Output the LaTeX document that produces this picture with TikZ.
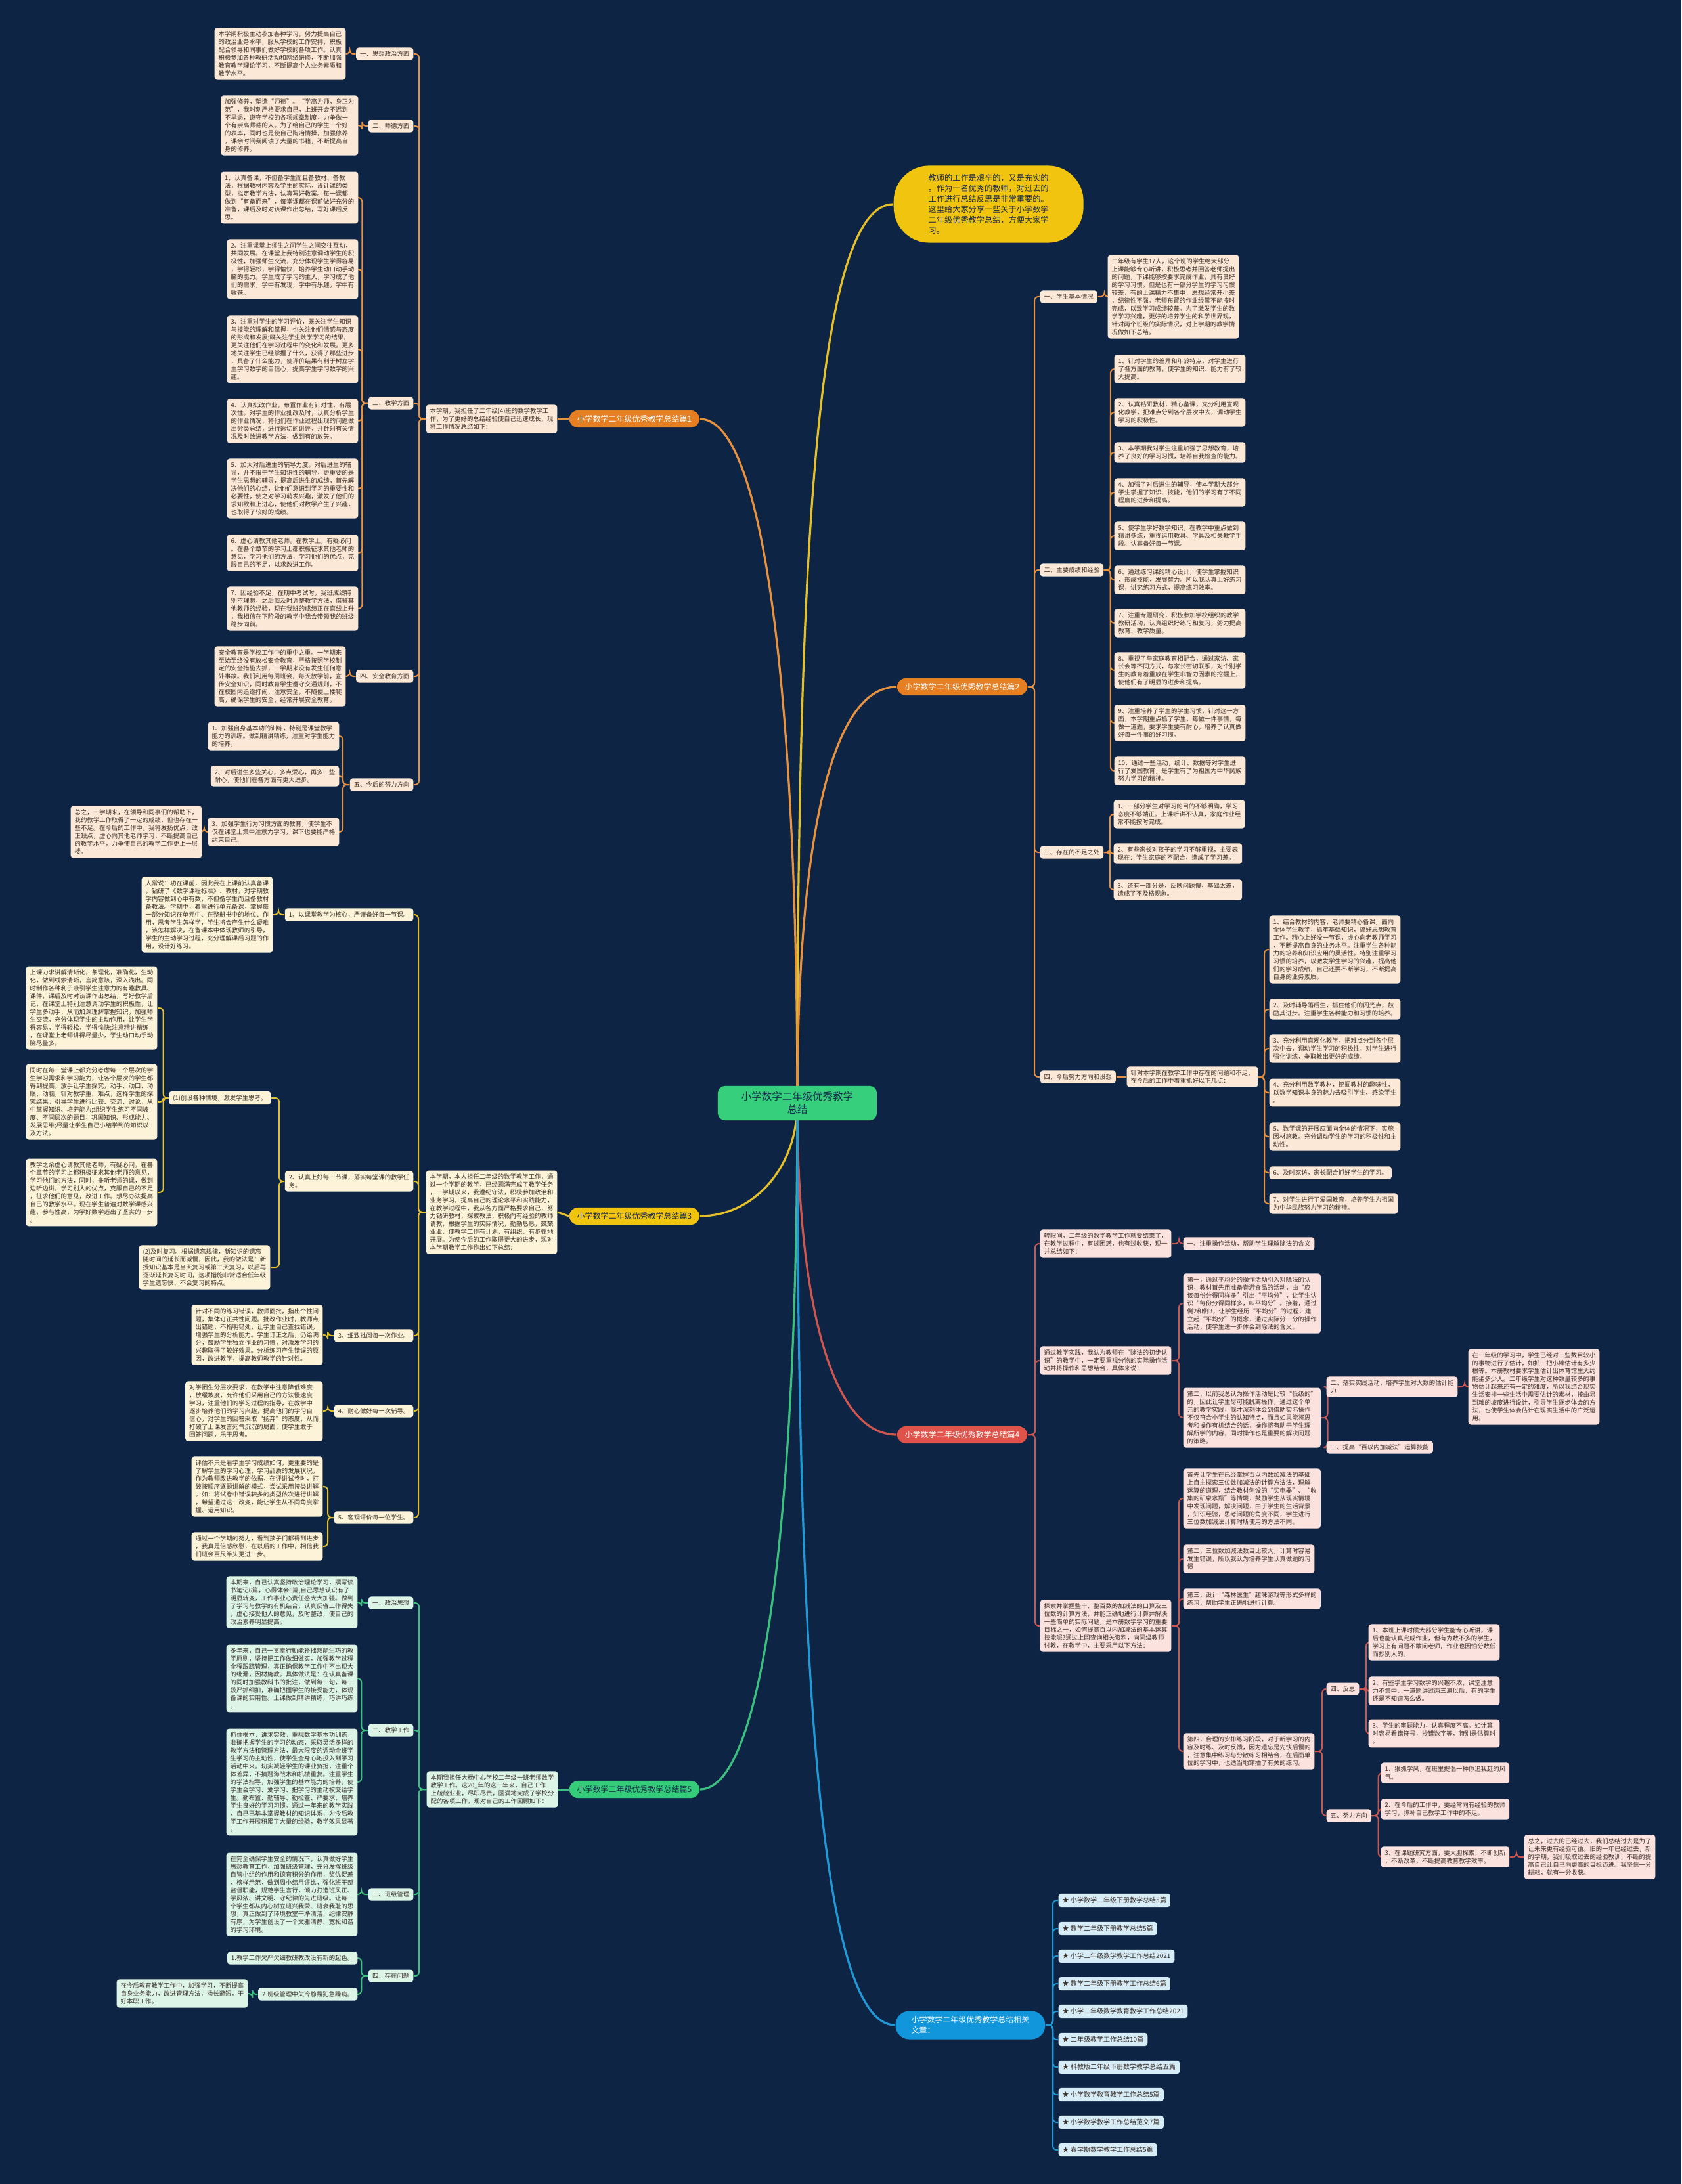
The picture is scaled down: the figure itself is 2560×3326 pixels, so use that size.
\documentclass[tikz,border=0pt]{standalone}
\usepackage{fontspec}
\setmainfont{Noto Sans CJK SC}

\definecolor{bgnavy}{HTML}{0E2444}
\definecolor{inktext}{HTML}{3A2E28}
\definecolor{navytext}{HTML}{14284A}
\definecolor{rootgreen}{HTML}{36D07C}
\definecolor{orangeline}{HTML}{E8913F}
\definecolor{orangefill}{HTML}{E67E22}
\definecolor{peachfill}{HTML}{FBE8D6}
\definecolor{yellowline}{HTML}{E4C12A}
\definecolor{yellowfill}{HTML}{F1C40F}
\definecolor{creamfill}{HTML}{FCF3D8}
\definecolor{greenline}{HTML}{3CC07F}
\definecolor{greenfill}{HTML}{34CC78}
\definecolor{mintfill}{HTML}{DDF5E6}
\definecolor{redline}{HTML}{CE5650}
\definecolor{redfill}{HTML}{E0534A}
\definecolor{pinkfill}{HTML}{FCE2DF}
\definecolor{blueline}{HTML}{2199D6}
\definecolor{bluefill}{HTML}{1296DB}
\definecolor{skyfill}{HTML}{D6ECF7}

\newcommand\notesize{\fontsize{2.67pt}{3.41pt}\selectfont}
\newcommand\branchsize{\fontsize{3.41pt}{4.55pt}\selectfont}
\newcommand\bubblesize{\fontsize{3.47pt}{4.55pt}\selectfont}
\newcommand\rootsize{\fontsize{4.4pt}{5.7pt}\selectfont}
\newcommand\linksize{\fontsize{2.85pt}{3.6pt}\selectfont}

\pgfdeclarelayer{back}
\pgfsetlayers{back,main}

\begin{document}
\begin{tikzpicture}[x=0.1mm, y=-0.1mm,
    box/.style={rounded corners=0.4mm, inner xsep=0.6mm, inner ysep=0.52mm, align=left, font=\notesize, text=inktext},
    onote/.style={box, fill=peachfill},
    ynote/.style={box, fill=creamfill},
    gnote/.style={box, fill=mintfill},
    rnote/.style={box, fill=pinkfill},
    bnote/.style={box, fill=skyfill, font=\linksize, inner ysep=0.55mm},
    branch/.style={rounded corners=1.35mm, inner xsep=1.2mm, inner ysep=0.75mm, font=\branchsize},
    mainline/.style={line width=0.32mm},
    oline/.style={draw=orangeline, line width=0.2mm, rounded corners=0.6mm},
    yline/.style={draw=yellowline, line width=0.2mm, rounded corners=0.6mm},
    gline/.style={draw=greenline, line width=0.2mm, rounded corners=0.6mm},
    rline/.style={draw=redline, line width=0.2mm, rounded corners=0.6mm},
    bline/.style={draw=blueline, line width=0.2mm, rounded corners=0.6mm}
  ]
  \useasboundingbox (0,0) rectangle (2560,3326);
  \begin{pgfonlayer}{back}
    \fill[bgnavy] (0,0) rectangle (2560,3326);
  \end{pgfonlayer}

  % centre
  \node[fill=rootgreen, rounded corners=1.1mm, inner xsep=3.6mm, inner ysep=0.9mm,
        font=\rootsize, text=navytext, align=center] (root) at (1214,1680)
        {小学数学二年级优秀教学\\总结};

  % Branch 1 (left, orange)
  \node[branch, fill=orangefill, text=white, anchor=west] (b1) at (866,638) {小学数学二年级优秀教学总结篇1};
  \node[onote, anchor=west] (intro1) at (648,638) {本学期，我担任了二年级(4)班的数学教学工\\作，为了更好的总结经验使自己迅速成长，现\\将工作情况总结如下：};

  \node[onote, anchor=east] (l1a) at (630,82) {一、思想政治方面};
  \node[onote, anchor=east] (t1a) at (527,82) {本学期积极主动参加各种学习，努力提高自己\\的政治业务水平，服从学校的工作安排，积极\\配合领导和同事们做好学校的各项工作。认真\\积极参加各种教研活动和网络研修，不断加强\\教育教学理论学习，不断提高个人业务素质和\\教学水平。};

  \node[onote, anchor=east] (l1b) at (630,192) {二、师德方面};
  \node[onote, anchor=east] (t1b) at (546,191) {加强修养，塑造“师德”。“学高为师，身正为\\范”，我时刻严格要求自己，上班开会不迟到\\不早退，遵守学校的各项规章制度，力争做一\\个有崇高师德的人。为了给自己的学生一个好\\的表率，同时也是使自己陶冶情操，加强修养\\，课余时间我阅读了大量的书籍，不断提高自\\身的修养。};

  \node[onote, anchor=east] (l1c) at (630,614) {三、教学方面};
  \node[onote, anchor=east] (c1) at (546,301) {1、认真备课，不但备学生而且备教材、备教\\法，根据教材内容及学生的实际，设计课的类\\型，拟定教学方法，认真写好教案。每一课都\\做到“有备而来”，每堂课都在课前做好充分的\\准备，课后及时对该课作出总结，写好课后反\\思。};
  \node[onote, anchor=east] (c2) at (546,410) {2、注重课堂上师生之间学生之间交往互动，\\共同发展。在课堂上我特别注意调动学生的积\\极性，加强师生交流，充分体现学生学得容易\\，学得轻松，学得愉快，培养学生动口动手动\\脑的能力。学生成了学习的主人，学习成了他\\们的需求，学中有发现，学中有乐趣，学中有\\收获。};
  \node[onote, anchor=east] (c3) at (546,532) {3、注重对学生的学习评价，既关注学生知识\\与技能的理解和掌握，也关注他们情感与态度\\的形成和发展;既关注学生数学学习的结果，\\更关注他们在学习过程中的变化和发展。更多\\地关注学生已经掌握了什么，获得了那些进步\\，具备了什么能力，使评价结果有利于树立学\\生学习数学的自信心，提高学生学习数学的兴\\趣。};
  \node[onote, anchor=east] (c4) at (546,641) {4、认真批改作业，布置作业有针对性，有层\\次性。对学生的作业批改及时，认真分析学生\\的作业情况，将他们在作业过程出现的问题做\\出分类总结，进行透切的讲评，并针对有关情\\况及时改进教学方法，做到有的放矢。};
  \node[onote, anchor=east] (c5) at (546,744) {5、加大对后进生的辅导力度。对后进生的辅\\导，并不限于学生知识性的辅导，更重要的是\\学生思想的辅导，提高后进生的成绩，首先解\\决他们的心结，让他们意识到学习的重要性和\\必要性，使之对学习萌发兴趣，激发了他们的\\求知欲和上进心，使他们对数学产生了兴趣，\\也取得了较好的成绩。};
  \node[onote, anchor=east] (c6) at (546,842) {6、虚心请教其他老师。在教学上，有疑必问\\。在各个章节的学习上都积极征求其他老师的\\意见，学习他们的方法，学习他们的优点，克\\服自己的不足，以求改进工作。};
  \node[onote, anchor=east] (c7) at (546,927) {7、因经验不足，在期中考试时，我班成绩特\\别不理想，之后我及时调整教学方法，借鉴其\\他教师的经验，现在我班的成绩正在直线上升\\，我相信在下阶段的教学中我会带领我的班级\\稳步向前。};

  \node[onote, anchor=east] (l1d) at (630,1030) {四、安全教育方面};
  \node[onote, anchor=east] (t1d) at (527,1030) {安全教育是学校工作中的重中之重。一学期来\\至始至终没有放松安全教育，严格按照学校制\\定的安全措施去抓，一学期来没有发生任何意\\外事故。我们利用每周班会，每天放学前，宣\\传安全知识，同时教育学生遵守交通规则，不\\在校园内追逐打闹，注意安全，不随便上楼爬\\高，确保学生的安全，经常开展安全教育。};

  \node[onote, anchor=east] (l1e) at (630,1195) {五、今后的努力方向};
  \node[onote, anchor=east] (e1) at (517,1121) {1、加强自身基本功的训练，特别是课堂教学\\能力的训练。做到精讲精练，注重对学生能力\\的培养。};
  \node[onote, anchor=east] (e2) at (517,1182) {2、对后进生多些关心，多点爱心，再多一些\\耐心，使他们在各方面有更大进步。};
  \node[onote, anchor=east] (e3) at (517,1267) {3、加强学生行为习惯方面的教育，使学生不\\仅在课堂上集中注意力学习，课下也要能严格\\约束自己。};
  \node[onote, anchor=east] (e4) at (308,1267) {总之，一学期来，在领导和同事们的帮助下，\\我的教学工作取得了一定的成绩，但也存在一\\些不足。在今后的工作中，我将发扬优点，改\\正缺点，虚心向其他老师学习，不断提高自己\\的教学水平，力争使自己的教学工作更上一层\\楼。};

  % Branch 3 (left, yellow)
  \node[branch, fill=yellowfill, text=navytext, anchor=west] (b3) at (866,1852) {小学数学二年级优秀教学总结篇3};
  \node[ynote, anchor=west] (intro3) at (648,1846) {本学期，本人担任二年级的数学教学工作，通\\过一个学期的教学，已经圆满完成了教学任务\\，一学期以来，我遵纪守法，积极参加政治和\\业务学习，提高自己的理论水平和实践能力，\\在教学过程中，我从各方面严格要求自己，努\\力钻研教材，探索教法，积极向有经验的教师\\请教，根据学生的实际情况，勤勤恳恳，兢兢\\业业，使教学工作有计划，有组织，有步骤地\\开展。为使今后的工作取得更大的进步，现对\\本学期教学工作作出如下总结：};

  \node[ynote, anchor=east] (l3a) at (630,1393) {1、以课堂教学为核心，严谨备好每一节课。};
  \node[ynote, anchor=east] (k1) at (416,1393) {人常说：功在课前，因此我在上课前认真备课\\，钻研了《数学课程标准》、教材，对学期教\\学内容做到心中有数，不但备学生而且备教材\\备教法。学期中，着重进行单元备课，掌握每\\一部分知识在单元中、在整册书中的地位、作\\用，思考学生怎样学，学生将会产生什么疑难\\，该怎样解决，在备课本中体现教师的引导，\\学生的主动学习过程，充分理解课后习题的作\\用，设计好练习。};

  \node[ynote, anchor=east] (l3b) at (630,1799) {2、认真上好每一节课，落实每堂课的教学任\\务。};
  \node[ynote, anchor=east] (l3p) at (413,1672) {(1)创设各种情境，激发学生思考。};
  \node[ynote, anchor=east] (ka) at (240,1535) {上课力求讲解清晰化，条理化，准确化，生动\\化，做到线索清晰，言简意赅，深入浅出。同\\时制作各种利于吸引学生注意力的有趣教具、\\课件，课后及时对该课作出总结，写好教学后\\记，在课堂上特别注意调动学生的积极性，让\\学生多动手，从而加深理解掌握知识，加强师\\生交流，充分体现学生的主动作用，让学生学\\得容易，学得轻松，学得愉快;注意精讲精练\\，在课堂上老师讲得尽量少，学生动口动手动\\脑尽量多。};
  \node[ynote, anchor=east] (kb) at (240,1678) {同时在每一堂课上都充分考虑每一个层次的学\\生学习需求和学习能力，让各个层次的学生都\\得到提高。放手让学生探究，动手、动口、动\\眼、动脑，针对教学重、难点，选择学生的探\\究结果，引导学生进行比较、交流、讨论，从\\中掌握知识、培养能力;组织学生练习不同坡\\度、不同层次的题目，巩固知识、形成能力、\\发展思维;尽量让学生自己小结学到的知识以\\及方法。};
  \node[ynote, anchor=east] (kc) at (240,1816) {教学之余虚心请教其他老师，有疑必问。在各\\个章节的学习上都积极征求其他老师的意见，\\学习他们的方法，同时，多听老师的课，做到\\边听边讲，学习别人的优点，克服自己的不足\\，征求他们的意见，改进工作。想尽办法提高\\自己的教学水平。现在学生普遍对数学课感兴\\趣，参与性高，为学好数学迈出了坚实的一步\\。};
  \node[ynote, anchor=east] (l3q) at (412,1930) {(2)及时复习。根据遗忘规律，新知识的遗忘\\随时间的延长而减慢，因此，我的做法是：新\\授知识基本是当天复习或第二天复习，以后再\\逐渐延长复习时间，这项措施非常适合低年级\\学生遗忘快、不会复习的特点。};

  \node[ynote, anchor=east] (l3c) at (630,2034) {3、细致批阅每一次作业。};
  \node[ynote, anchor=east] (k3) at (492,2033) {针对不同的练习错误，教师面批，指出个性问\\题，集体订正共性问题。批改作业时，教师点\\出错题，不指明错处，让学生自己查找错误，\\增强学生的分析能力。学生订正之后，仍给满\\分，鼓励学生独立作业的习惯，对激发学习的\\兴趣取得了较好效果。分析练习产生错误的原\\因，改进教学，提高教师教学的针对性。};
  \node[ynote, anchor=east] (l3d) at (630,2149) {4、耐心做好每一次辅导。};
  \node[ynote, anchor=east] (k4) at (492,2149) {对学困生分层次要求，在教学中注意降低难度\\，放缓坡度，允许他们采用自己的方法慢速度\\学习，注重他们的学习过程的指导，在教学中\\逐步培养他们的学习兴趣，提高他们的学习自\\信心，对学生的回答采取“扬弃”的态度，从而\\打破了上课发言死气沉沉的局面，使学生敢于\\回答问题，乐于思考。};
  \node[ynote, anchor=east] (l3e) at (630,2311) {5、客观评价每一位学生。};
  \node[ynote, anchor=east] (k5a) at (492,2264) {评估不只是看学生学习成绩如何，更重要的是\\了解学生的学习心理、学习品质的发展状况，\\作为教师改进教学的依据，在评讲试卷时，打\\破按顺序逐题讲解的模式，尝试采用按类讲解\\。如：将试卷中错误较多的类型依次进行讲解\\，希望通过这一改变，能让学生从不同角度掌\\握、运用知识。};
  \node[ynote, anchor=east] (k5b) at (492,2355) {通过一个学期的努力，看到孩子们都得到进步\\，我真是倍感欣慰，在以后的工作中，相信我\\们班会百尺竿头更进一步。};

  % Branch 5 (left, green)
  \node[branch, fill=greenfill, text=navytext, anchor=west] (b5) at (866,2725) {小学数学二年级优秀教学总结篇5};
  \node[gnote, anchor=west] (intro5) at (649,2725) {本期我担任大杨中心学校二年级一班老师数学\\教学工作。这20\_年的这一年来，自己工作\\上兢兢业业，尽职尽责，圆满地完成了学校分\\配的各项工作，现对自己的工作回顾如下：};

  \node[gnote, anchor=east] (l5a) at (630,2441) {一、政治思想};
  \node[gnote, anchor=east] (g1) at (545,2440) {本期来，自己认真坚持政治理论学习，撰写读\\书笔记6篇，心得体会6篇,自己思想认识有了\\明显转变，工作事业心责任感大大加强。做到\\了学习与教学的有机结合，认真反省工作得失\\，虚心接受他人的意见，及时整改，使自己的\\政治素养明显提高。};
  \node[gnote, anchor=east] (l5b) at (630,2635) {二、教学工作};
  \node[gnote, anchor=east] (g2a) at (545,2556) {多年来，自己一贯奉行勤能补拙熟能生巧的教\\学原则，坚持把工作做细做实，加强教学过程\\全程跟踪管理，真正确保教学工作中不出现大\\的纰漏，因材施教。具体做法是：在认真备课\\的同时加强教科书的批注，做到每一句，每一\\段严抓细扣，准确把握学生的接受能力，体现\\备课的实用性。上课做到精讲精练，巧讲巧练\\。};
  \node[gnote, anchor=east] (g2b) at (545,2714) {抓住根本，讲求实效，重视数学基本功训练，\\准确把握学生的学习的动态，采取灵活多样的\\教学方法和管理方法，最大限度的调动全班学\\生学习的主动性，使学生全身心地投入到学习\\活动中来。切实减轻学生的课业负担，注重个\\体差异，不搞题海战术和机械重复。注重学生\\的学法指导，加强学生的基本能力的培养，使\\学生会学习、爱学习、把学习的主动权交给学\\生。勤布置、勤辅导、勤检查、严要求、培养\\学生良好的学习习惯。通过一年来的教学实践\\，自己已基本掌握教材的知识体系，为今后教\\学工作开展积累了大量的经验，教学效果显著\\。};
  \node[gnote, anchor=east] (l5c) at (630,2885) {三、班级管理};
  \node[gnote, anchor=east] (g3) at (545,2885) {在完全确保学生安全的情况下，认真做好学生\\思想教育工作，加强班级管理，充分发挥班级\\自管小组的作用和德育积分的作用，奖优促差\\，榜样示范，做到周小结月评比，强化班干部\\监督职能，规范学生言行，倾力打造班风正、\\学风浓、讲文明、守纪律的先进班级。让每一\\个学生都从内心树立班兴我荣、班衰我耻的思\\想，真正做到了环境教室干净清洁，纪律安静\\有序，为学生创设了一个文雅清静、宽松和谐\\的学习环境。};
  \node[gnote, anchor=east] (l5d) at (630,3009) {四、存在问题};
  \node[gnote, anchor=east] (g4a) at (545,2982) {1.教学工作欠严欠细教研教改没有新的起色。};
  \node[gnote, anchor=east] (g4b) at (545,3037) {2.班级管理中欠冷静易犯急躁病。};
  \node[gnote, anchor=east] (g4c) at (378,3036) {在今后教育教学工作中，加强学习，不断提高\\自身业务能力，改进管理方法，扬长避短，干\\好本职工作。};

  % intro bubble (right, yellow)
  \node[fill=yellowfill, rounded corners=5.4mm, inner xsep=5.3mm, inner ysep=1.3mm,
        font=\bubblesize, text=navytext, align=left, anchor=west] (bubble) at (1360,311)
        {教师的工作是艰辛的，又是充实的\\。作为一名优秀的教师，对过去的\\工作进行总结反思是非常重要的。\\这里给大家分享一些关于小学数学\\二年级优秀教学总结，方便大家学\\习。};

  % Branch 2 (right, orange)
  \node[branch, fill=orangefill, text=white, anchor=east] (b2) at (1565,1046) {小学数学二年级优秀教学总结篇2};

  \node[onote, anchor=west] (l2a) at (1583,452) {一、学生基本情况};
  \node[onote, anchor=west] (h1) at (1686,452) {二年级有学生17人，这个班的学生绝大部分\\上课能够专心听讲，积极思考并回答老师提出\\的问题，下课能够按要求完成作业，具有良好\\的学习习惯。但是也有一部分学生的学习习惯\\较差，有的上课精力不集中，思想经常开小差\\，纪律性不强。老师布置的作业经常不能按时\\完成，以致学习成绩较差。为了激发学生的数\\学学习兴趣，更好的培养学生的科学世界观，\\针对两个班级的实际情况，对上学期的教学情\\况做如下总结。};

  \node[onote, anchor=west] (l2b) at (1583,868) {二、主要成绩和经验};
  \node[onote, anchor=west] (m01) at (1696,562) {1、针对学生的差异和年龄特点，对学生进行\\了各方面的教育，使学生的知识、能力有了较\\大提高。};
  \node[onote, anchor=west] (m02) at (1696,628) {2、认真钻研教材，精心备课，充分利用直观\\化教学，把难点分到各个层次中去，调动学生\\学习的积极性。};
  \node[onote, anchor=west] (m03) at (1696,689) {3、本学期我对学生注重加强了思想教育，培\\养了良好的学习习惯，培养自我检查的能力。};
  \node[onote, anchor=west] (m04) at (1696,750) {4、加强了对后进生的辅导，使本学期大部分\\学生掌握了知识、技能，他们的学习有了不同\\程度的进步和提高。};
  \node[onote, anchor=west] (m05) at (1696,816) {5、使学生学好数学知识，在教学中重点做到\\精讲多练，重视运用教具、学具及相关教学手\\段。认真备好每一节课。};
  \node[onote, anchor=west] (m06) at (1696,883) {6、通过练习课的精心设计，使学生掌握知识\\，形成技能，发展智力。所以我认真上好练习\\课，讲究练习方式，提高练习效率。};
  \node[onote, anchor=west] (m07) at (1696,949) {7、注重专题研究，积极参加学校组织的教学\\教研活动，认真组织好练习和复习，努力提高\\教育、教学质量。};
  \node[onote, anchor=west] (m08) at (1696,1021) {8、重视了与家庭教育相配合，通过家访、家\\长会等不同方式，与家长密切联系，对个别学\\生的教育着重放在学生非智力因素的挖掘上，\\使他们有了明显的进步和提高。};
  \node[onote, anchor=west] (m09) at (1696,1101) {9、注重培养了学生的学生习惯，针对这一方\\面，本学期重点抓了学生，每做一件事情，每\\做一道题，要求学生要有耐心，培养了认真做\\好每一件事的好习惯。};
  \node[onote, anchor=west] (m10) at (1696,1174) {10、通过一些活动，统计、数据等对学生进\\行了爱国教育，是学生有了为祖国为中华民族\\努力学习的精神。};

  \node[onote, anchor=west] (l2c) at (1583,1298) {三、存在的不足之处};
  \node[onote, anchor=west] (w1) at (1695,1240) {1、一部分学生对学习的目的不够明确，学习\\态度不够端正。上课听讲不认真，家庭作业经\\常不能按时完成。};
  \node[onote, anchor=west] (w2) at (1695,1300) {2、有些家长对孩子的学习不够重视，主要表\\现在：学生家庭的不配合，造成了学习差。};
  \node[onote, anchor=west] (w3) at (1695,1355) {3、还有一部分是，反映问题慢，基础太差，\\造成了不及格现象。};

  \node[onote, anchor=west] (l2d) at (1583,1640) {四、今后努力方向和设想};
  \node[onote, anchor=west] (v0) at (1715,1640) {针对本学期在教学工作中存在的问题和不足，\\在今后的工作中着重抓好以下几点：};
  \node[onote, anchor=west] (v1) at (1932,1446) {1、结合教材的内容，老师要精心备课，面向\\全体学生教学，抓牢基础知识，搞好思想教育\\工作。精心上好没一节课，虚心向老教师学习\\，不断提高自身的业务水平。注重学生各种能\\力的培养和知识应用的灵活性。特别注重学习\\习惯的培养，以激发学生学习的兴趣，提高他\\们的学习成绩，自己还要不断学习，不断提高\\自身的业务素质。};
  \node[onote, anchor=west] (v2) at (1932,1537) {2、及时辅导落后生，抓住他们的闪光点，鼓\\励其进步。注重学生各种能力和习惯的培养。};
  \node[onote, anchor=west] (v3) at (1932,1597) {3、充分利用直观化教学，把难点分到各个层\\次中去，调动学生学习的积极性。对学生进行\\强化训练，争取教出更好的成绩。};
  \node[onote, anchor=west] (v4) at (1932,1664) {4、充分利用数学教材，挖掘教材的趣味性，\\以数学知识本身的魅力去吸引学生、感染学生\\。};
  \node[onote, anchor=west] (v5) at (1932,1731) {5、数学课的开展应面向全体的情况下，实施\\因材施教。充分调动学生的学习的积极性和主\\动性。};
  \node[onote, anchor=west] (v6) at (1932,1786) {6、及时家访，家长配合抓好学生的学习。};
  \node[onote, anchor=west] (v7) at (1932,1833) {7、对学生进行了爱国教育，培养学生为祖国\\为中华民族努力学习的精神。};

  % Branch 4 (right, red)
  \node[branch, fill=redfill, text=white, anchor=east] (b4) at (1565,2185) {小学数学二年级优秀教学总结篇4};

  \node[rnote, anchor=west] (n4a) at (1583,1894) {转眼间，二年级的数学教学工作就要结束了，\\在教学过程中，有过困惑，也有过收获，现一\\并总结如下：};
  \node[rnote, anchor=west] (l4a) at (1801,1894) {一、注重操作活动，帮助学生理解除法的含义};

  \node[rnote, anchor=west] (n4b) at (1583,2072) {通过教学实践，我认为教师在“除法的初步认\\识”的教学中，一定要重视分物的实际操作活\\动并将操作和思想结合，具体来说：};
  \node[rnote, anchor=west] (d1) at (1801,1985) {第一，通过平均分的操作活动引入对除法的认\\识，教材首先用准备春游食品的活动，由“应\\该每份分得同样多”引出“平均分”，让学生认\\识“每份分得同样多，叫平均分”。接着，通过\\例2和例3，让学生经历“平均分”的过程，建\\立起“平均分”的概念，通过实际分一分的操作\\活动，使学生进一步体会到除法的含义。};
  \node[rnote, anchor=west] (d2) at (1801,2159) {第二，以前我总认为操作活动是比较“低级的”\\的，因此让学生尽可能脱离操作，通过这个单\\元的教学实践，我才深刻体会到借助实际操作\\不仅符合小学生的认知特点，而且如果能将思\\考和操作有机结合的话，操作将有助于学生理\\解所学的内容，同时操作也是重要的解决问题\\的策略。};
  \node[rnote, anchor=west] (l4b) at (2019,2112) {二、落实实践活动，培养学生对大数的估计能\\力};
  \node[rnote, anchor=west] (x1) at (2235,2112) {在一年级的学习中，学生已经对一些数目较小\\的事物进行了估计，如抓一把小棒估计有多少\\根等。本册教材要求学生估计出体育馆里大约\\能坐多少人。二年级学生对这种数量较多的事\\物估计起来还有一定的难度，所以我结合现实\\生活安排一些生活中需要估计的素材，按由易\\到难的坡度进行设计，引导学生逐步体会的方\\法，也使学生体会估计在现实生活中的广泛运\\用。};
  \node[rnote, anchor=west] (l4c) at (2019,2204) {三、提高“百以内加减法”运算技能};

  \node[rnote, anchor=west] (n4c) at (1583,2476) {探索并掌握整十、整百数的加减法的口算及三\\位数的计算方法，并能正确地进行计算并解决\\一些简单的实际问题，是本册数学学习的重要\\目标之一，如何提高百以内加减法的基本运算\\技能呢?通过上网查询相关资料，向同级教师\\讨教，在教学中，主要采用以下方法：};
  \node[rnote, anchor=west] (p1) at (1801,2282) {首先让学生在已经掌握百以内数加减法的基础\\上自主探索三位数加减法的计算方法法，理解\\运算的道理，结合教材创设的“买电器”、“收\\集的矿泉水瓶”等情境，鼓励学生从现实情境\\中发现问题，解决问题，由于学生的生活背景\\，知识经验，思考问题的角度不同，学生进行\\三位数加减法计算时所使用的方法不同。};
  \node[rnote, anchor=west] (p2) at (1801,2374) {第二，三位数加减法数目比较大，计算时容易\\发生错误，所以我认为培养学生认真做题的习\\惯};
  \node[rnote, anchor=west] (p3) at (1801,2435) {第三，设计“森林医生”趣味游戏等形式多样的\\练习，帮助学生正确地进行计算。};
  \node[rnote, anchor=west] (p4) at (1801,2667) {第四，合理的安排练习阶段，对于新学习的内\\容及时练、及时反馈，因为遗忘是先快后慢的\\，注意集中练习与分散练习相结合，在后面单\\位的学习中，也适当地穿插了有关的练习。};

  \node[rnote, anchor=west] (l4d) at (2019,2572) {四、反思};
  \node[rnote, anchor=west] (r1) at (2083,2501) {1、本班上课时候大部分学生能专心听讲，课\\后也能认真完成作业，但有为数不多的学生，\\学习上有问题不敢问老师，作业也因怕分数低\\而抄别人的。};
  \node[rnote, anchor=west] (r2) at (2083,2575) {2、有些学生学习数学的兴趣不浓，课堂注意\\力不集中，一道题讲过两三遍以后，有的学生\\还是不知道怎么做。};
  \node[rnote, anchor=west] (r3) at (2083,2640) {3、学生的审题能力，认真程度不高。如计算\\时容易看错符号，抄错数字等，特别是估算时\\。};

  \node[rnote, anchor=west] (l4e) at (2019,2765) {五、努力方向};
  \node[rnote, anchor=west] (s1) at (2102,2700) {1、狠抓学风，在班里提倡一种你追我赶的风\\气。};
  \node[rnote, anchor=west] (s2) at (2102,2755) {2、在今后的工作中，要经常向有经验的教师\\学习，弥补自己教学工作中的不足。};
  \node[rnote, anchor=west] (s3) at (2102,2828) {3、在课题研究方面，要大胆探索，不断创新\\，不断改革，不断提高教育教学效率。};
  \node[rnote, anchor=west] (s4) at (2320,2828) {总之，过去的已经过去，我们总结过去是为了\\让未来更有经验可循。旧的一年已经过去，新\\的学期，我们吸取过去的经验教训，不断的提\\高自己让自己向更高的目标迈进。我坚信一分\\耕耘，就有一分收获。};

  % related articles (right, blue)
  \node[fill=bluefill, rounded corners=2.1mm, inner xsep=2.4mm, inner ysep=0.8mm,
        font=\branchsize, text=white, align=left, anchor=east] (b6) at (1592,3084)
        {小学数学二年级优秀教学总结相关\\文章：};
  \foreach \i/\y/\txt in {1/2894/小学数学二年级下册教学总结5篇,
                          2/2937/数学二年级下册教学总结5篇,
                          3/2979/小学二年级数学教学工作总结2021,
                          4/3021/数学二年级下册教学工作总结6篇,
                          5/3063/小学二年级数学教育教学工作总结2021,
                          6/3106/二年级教学工作总结10篇,
                          7/3148/科教版二年级下册数学教学总结五篇,
                          8/3190/小学数学教育教学工作总结5篇,
                          9/3232/小学数学教学工作总结范文7篇,
                          10/3274/春学期数学教学工作总结5篇} {
    \node[bnote, anchor=west] (a\i) at (1611,\y) {★ \txt};
  }

  % connectors
  \begin{pgfonlayer}{back}
    \draw[mainline, draw=orangeline] (root.center) to[out=90, in=0, out distance=60mm, in distance=10mm] (b1.east);
    \draw[mainline, draw=yellowline] (root.center) to[out=90, in=180, out distance=80mm, in distance=12mm] (bubble.west);
    \draw[mainline, draw=orangeline] (root.center) to[out=90, in=180, out distance=40mm, in distance=10mm] (b2.west);
    \draw[mainline, draw=yellowline] (root.center) to[out=-90, in=0, out distance=10mm, in distance=8mm] (b3.east);
    \draw[mainline, draw=redline] (root.center) to[out=-90, in=180, out distance=30mm, in distance=10mm] (b4.west);
    \draw[mainline, draw=greenline] (root.center) to[out=-90, in=0, out distance=60mm, in distance=10mm] (b5.east);
    \draw[mainline, draw=blueline] (root.center) to[out=-90, in=180, out distance=80mm, in distance=12mm] (b6.west);

    % branch 1
    \draw[oline, line width=0.3mm] (b1.west) -- (intro1.east);
    \foreach \n in {l1a,l1b,l1c,l1d,l1e}
      \draw[oline] (intro1.west) -- ++(-10,0) |- (\n.east);
    \draw[oline] (l1a.west) -- ++(-9,0) |- (t1a.east);
    \draw[oline] (l1b.west) -- ++(-9,0) |- (t1b.east);
    \foreach \n in {c1,c2,c3,c4,c5,c6,c7}
      \draw[oline] (l1c.west) -- ++(-9,0) |- (\n.east);
    \draw[oline] (l1d.west) -- ++(-9,0) |- (t1d.east);
    \foreach \n in {e1,e2,e3}
      \draw[oline] (l1e.west) -- ++(-10,0) |- (\n.east);
    \draw[oline] (e3.west) -- ++(-5,0) |- (e4.east);

    % branch 3
    \draw[yline, line width=0.3mm] (b3.west) -- (intro3.east);
    \foreach \n in {l3a,l3b,l3c,l3d,l3e}
      \draw[yline] (intro3.west) -- ++(-11,0) |- (\n.east);
    \draw[yline] (l3a.west) -- ++(-9,0) |- (k1.east);
    \foreach \n in {l3p,l3q}
      \draw[yline] (l3b.west) -- ++(-8,0) |- (\n.east);
    \foreach \n in {ka,kb,kc}
      \draw[yline] (l3p.west) -- ++(-8,0) |- (\n.east);
    \draw[yline] (l3c.west) -- ++(-9,0) |- (k3.east);
    \draw[yline] (l3d.west) -- ++(-9,0) |- (k4.east);
    \foreach \n in {k5a,k5b}
      \draw[yline] (l3e.west) -- ++(-9,0) |- (\n.east);

    % branch 5
    \draw[gline, line width=0.3mm] (b5.west) -- (intro5.east);
    \foreach \n in {l5a,l5b,l5c,l5d}
      \draw[gline] (intro5.west) -- ++(-11,0) |- (\n.east);
    \draw[gline] (l5a.west) -- ++(-10,0) |- (g1.east);
    \foreach \n in {g2a,g2b}
      \draw[gline] (l5b.west) -- ++(-10,0) |- (\n.east);
    \draw[gline] (l5c.west) -- ++(-10,0) |- (g3.east);
    \foreach \n in {g4a,g4b}
      \draw[gline] (l5d.west) -- ++(-10,0) |- (\n.east);
    \draw[gline] (g4b.west) -- ++(-8,0) |- (g4c.east);

    % branch 2
    \foreach \n in {l2a,l2b,l2c,l2d}
      \draw[oline] (b2.east) -- ++(10,0) |- (\n.west);
    \draw[oline] (l2a.east) -- ++(10,0) |- (h1.west);
    \foreach \n in {m01,m02,m03,m04,m05,m06,m07,m08,m09,m10}
      \draw[oline] (l2b.east) -- ++(10,0) |- (\n.west);
    \foreach \n in {w1,w2,w3}
      \draw[oline] (l2c.east) -- ++(9,0) |- (\n.west);
    \draw[oline] (l2d.east) -- (v0.west);
    \foreach \n in {v1,v2,v3,v4,v5,v6,v7}
      \draw[oline] (v0.east) -- ++(9,0) |- (\n.west);

    % branch 4
    \foreach \n in {n4a,n4b,n4c}
      \draw[rline] (b4.east) -- ++(11,0) |- (\n.west);
    \draw[rline] (n4a.east) -- ++(11,0) |- (l4a.west);
    \foreach \n in {d1,d2}
      \draw[rline] (n4b.east) -- ++(11,0) |- (\n.west);
    \foreach \n in {l4b,l4c}
      \draw[rline] (d2.east) -- ++(10,0) |- (\n.west);
    \draw[rline] (l4b.east) -- ++(10,0) |- (x1.west);
    \foreach \n in {p1,p2,p3,p4}
      \draw[rline] (n4c.east) -- ++(11,0) |- (\n.west);
    \foreach \n in {l4d,l4e}
      \draw[rline] (p4.east) -- ++(11,0) |- (\n.west);
    \foreach \n in {r1,r2,r3}
      \draw[rline] (l4d.east) -- ++(10,0) |- (\n.west);
    \foreach \n in {s1,s2,s3}
      \draw[rline] (l4e.east) -- ++(10,0) |- (\n.west);
    \draw[rline] (s3.east) -- ++(10,0) |- (s4.west);

    % related articles
    \foreach \i in {1,...,10}
      \draw[bline] (b6.east) -- ++(11,0) |- (a\i.west);
  \end{pgfonlayer}
\end{tikzpicture}
\end{document}
